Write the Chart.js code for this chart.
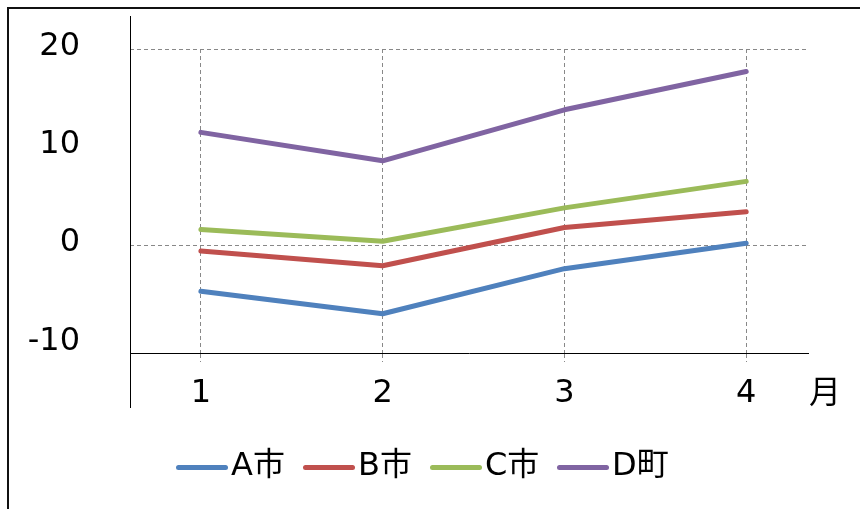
<!DOCTYPE html>
<html>
<head>
<meta charset="utf-8">
<script src="https://cdn.jsdelivr.net/npm/chart.js@4/dist/chart.umd.min.js"></script>
<style>
  html, body { margin: 0; padding: 0; background: #fff; overflow: hidden; width: 860px; height: 509px }
  #frame { position: absolute; left: 7px; top: 7px; width: 900px; height: 560px; border-top: 2px solid #111; border-left: 2px solid #111 }
  #chart { position: absolute; left: 0; top: 0 }
  .txt { font-family: "DejaVu Sans", "Noto Sans CJK JP", sans-serif; font-size: 32px; color: #000 }
  #unit { position: absolute; left: 809px; top: 372px; line-height: 40px }
  #legend { position: absolute; left: 176px; top: 444px; display: flex; height: 40px; align-items: center }
  .item { display: flex; align-items: center; width: 127px; line-height: 40px }
  .swatch { display: inline-block; width: 52px; height: 5px; border-radius: 3px; margin-right: 3px; margin-top: 6px }
</style>
</head>
<body>
<div id="frame"></div>
<canvas id="chart" width="860" height="509"></canvas>
<div id="unit" class="txt">月</div>
<div id="legend" class="txt"></div>
<script>
/* ====== 月別 折れ線グラフ ====== */

const months = [1, 2, 3, 4]
const seriesNames = ['A市', 'B市', 'C市', 'D町']
const cityA = [-4.7, -7.0, -2.4, 0.2]
const cityB = [-0.6, -2.1, 1.8, 3.4]
const cityC = [1.6, 0.4, 3.8, 6.5]
const townD = [11.5, 8.6, 13.8, 17.7]
const yTicks = [-10, 0, 10, 20]
const colors = ['#4F81BD', '#C0504D', '#9BBB59', '#8064A2']

const seriesValues = [cityA, cityB, cityC, townD]
const fontFamily = '"DejaVu Sans", "Noto Sans CJK JP", sans-serif'

// y axis line runs past the plot area both ways, like the original
const axisLinePlugin = {
  id: 'axisLine',
  afterDraw(chart) {
    const ctx = chart.ctx
    const x = Math.round(chart.chartArea.left) + 0.5
    ctx.save()
    ctx.strokeStyle = '#000'
    ctx.lineWidth = 1
    ctx.beginPath()
    ctx.moveTo(x, 16)
    ctx.lineTo(x, 408)
    ctx.stroke()
    ctx.restore()
  }
}

new Chart(document.getElementById('chart'), {
  type: 'line',
  data: {
    datasets: seriesValues.map((vals, i) => ({
      label: seriesNames[i],
      data: vals.map((v, j) => ({ x: months[j], y: v })),
      borderColor: colors[i],
      backgroundColor: colors[i],
      borderWidth: 5,
      borderCapStyle: 'round',
      borderJoinStyle: 'round',
      pointRadius: 0,
      tension: 0,
      clip: false
    }))
  },
  options: {
    responsive: false,
    animation: false,
    layout: { padding: { top: 49, right: 52, left: 0, bottom: 0 } },
    plugins: { legend: { display: false }, tooltip: { enabled: false } },
    scales: {
      x: {
        type: 'linear',
        min: 0.61, max: 4.34,
        afterBuildTicks: s => { s.ticks = months.map(v => ({ value: v })) },
        afterFit: s => { s.height = 156 },
        grid: { color: '#888', tickBorderDash: [4, 3], tickLength: 9, drawOnChartArea: true },
        border: { display: true, color: '#000', width: 1, dash: [4, 3] },
        ticks: { color: '#000', font: { family: fontFamily, size: 32 }, padding: 12, maxRotation: 0 }
      },
      y: {
        min: -11, max: 20,
        afterBuildTicks: s => { s.ticks = yTicks.map(v => ({ value: v })) },
        afterFit: s => { s.width = 130 },
        grid: {
          color: c => (c.tick && c.tick.value % 20 === 0) ? '#888' : 'rgba(0,0,0,0)',
          drawTicks: true, tickLength: 46, tickColor: 'rgba(0,0,0,0)'
        },
        border: { display: false, dash: [4, 3] },
        ticks: { color: '#000', font: { family: fontFamily, size: 32 }, padding: 4, labelOffset: -2 }
      }
    }
  },
  plugins: [axisLinePlugin]
})

// legend
document.getElementById('legend').innerHTML = seriesNames.map((n, i) =>
  `<div class="item"><span class="swatch" style="background:${colors[i]}"></span><span>${n}</span></div>`).join('')
</script>
</body>
</html>
